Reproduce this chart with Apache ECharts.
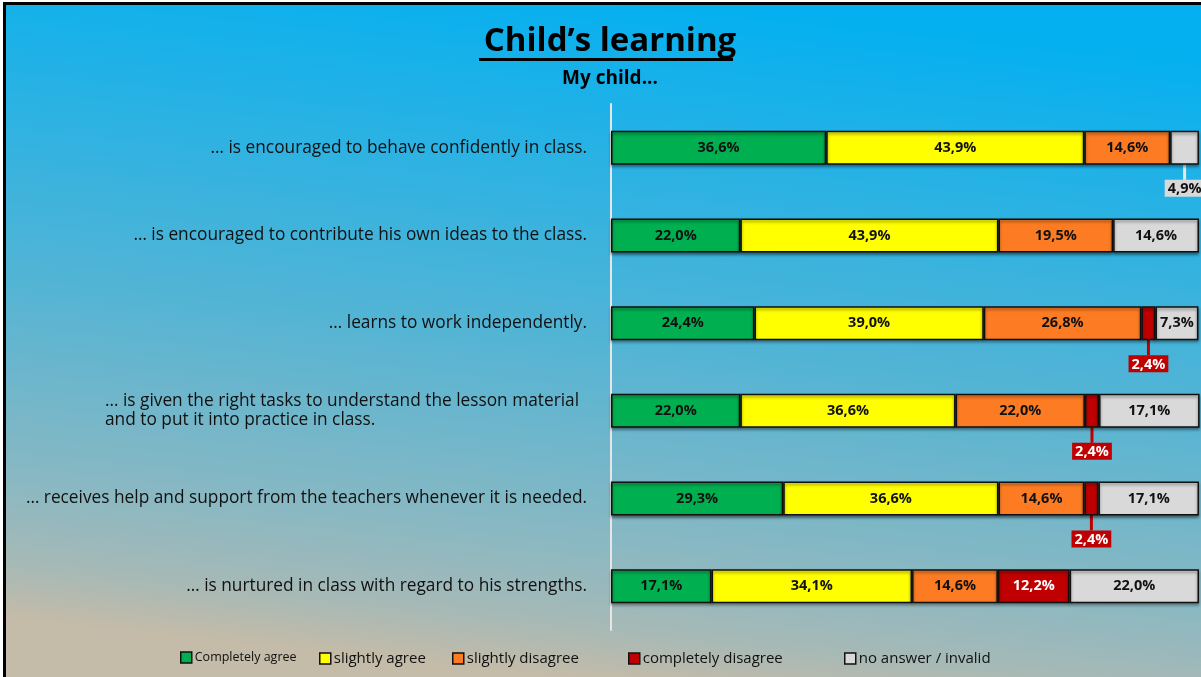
<!DOCTYPE html>
<html>
<head lang="en">
    <meta charset="UTF-8">
    <title>Child's learning</title>
    <style type="text/css">
        html, body { margin: 0; padding: 0; background: #fff; }
        #mychart { width: 1201px; height: 677px; }
    </style>
</head>
<body>
<div id="mychart"></div>
<script src="https://cdn.jsdelivr.net/npm/echarts@6/dist/echarts.min.js"></script>
<script>
    // statements, top row first
    var categories = [
        '\u2026 is encouraged to behave confidently in class.',
        '\u2026 is encouraged to contribute his own ideas to the class.',
        '\u2026 learns to work independently.',
        '\u2026 is given the right tasks to understand the lesson material\nand to put it into practice in class.',
        '\u2026 receives help and support from the teachers whenever it is needed.',
        '\u2026 is nurtured in class with regard to his strengths.'
    ];
    var seriesNames = ['Completely agree', 'slightly agree', 'slightly disagree', 'completely disagree', 'no answer / invalid'];
    var completelyAgree    = [36.6, 22.0, 24.4, 22.0, 29.3, 17.1];
    var slightlyAgree      = [43.9, 43.9, 39.0, 36.6, 36.6, 34.1];
    var slightlyDisagree   = [14.6, 19.5, 26.8, 22.0, 14.6, 14.6];
    var completelyDisagree = [0, 0, 2.4, 2.4, 2.4, 12.2];
    var noAnswer           = [4.9, 14.6, 7.3, 17.1, 17.1, 22.0];

    var values = [completelyAgree, slightlyAgree, slightlyDisagree, completelyDisagree, noAnswer];
    var colors = ['#00b050', '#ffff00', '#fd7c23', '#c00000', '#d9d9d9'];
    var labelColors = ['#111', '#111', '#111', '#fff', '#111'];
    var legendLeft = [180, 319, 452, 628, 844];
    var legendFont = [12.5, 15, 15, 15, 15];

    var FONT = '"Open Sans", "Noto Sans", sans-serif';
    var SMALL = 6; // segments thinner than this get their label below the bar

    function fmt(v) {
        return v.toFixed(1).replace('.', ',') + '%';
    }

    var series = values.map(function (arr, si) {
        return {
            name: seriesNames[si],
            type: 'bar',
            stack: 'all',
            barWidth: 34,
            itemStyle: {
                color: colors[si],
                borderColor: '#111',
                borderWidth: 1.5,
                shadowColor: 'rgba(0,0,0,0.45)',
                shadowBlur: 3,
                shadowOffsetY: 2
            },
            label: {
                show: true,
                position: 'inside',
                fontFamily: FONT,
                fontWeight: 'bold',
                fontSize: 14.5,
                color: labelColors[si],
                formatter: function (p) { return p.value ? fmt(p.value) : ''; }
            },
            labelLine: {
                show: true,
                lineStyle: { color: si === 3 ? '#c00000' : '#e8e8e8', width: 3 }
            },
            labelLayout: function (p) {
                var v = arr[p.dataIndex];
                if (v > 0 && v < SMALL) return { dy: 11 };
                return {};
            },
            data: arr.map(function (v) {
                if (!v) return '-';
                if (v < SMALL) {
                    return {
                        value: v,
                        label: {
                            position: 'bottom',
                            distance: 4,
                            backgroundColor: colors[si],
                            color: labelColors[si],
                            padding: [2, 3, 0, 3]
                        }
                    };
                }
                return v;
            })
        };
    });

    var legends = seriesNames.map(function (n, i) {
        return {
            data: [n],
            left: legendLeft[i],
            top: 651,
            padding: 0,
            itemWidth: 11,
            itemHeight: 11,
            itemGap: 3,
            icon: 'rect',
            selectedMode: false,
            itemStyle: { borderColor: '#111', borderWidth: 1.5 },
            textStyle: { fontFamily: FONT, fontSize: legendFont[i], color: '#111', padding: [0, 0, 0, -2] }
        };
    });

    var option = {
        backgroundColor: {
            type: 'linear', x: 0.53, y: 0, x2: 0.47, y2: 1,
            colorStops: [
                { offset: 0, color: '#05b0f0' },
                { offset: 0.5, color: '#52b4d5' },
                { offset: 0.8, color: '#8ab8c2' },
                { offset: 0.92, color: '#a6b9b6' },
                { offset: 1, color: '#c4bba8' }
            ]
        },
        animation: false,
        color: colors,
        title: [{
            text: 'Child\u2019s learning',
            left: 605,
            top: 20,
            textAlign: 'center',
            textStyle: { fontFamily: FONT, fontSize: 33, fontWeight: 'bold', color: '#000' }
        }, {
            text: 'My child...',
            left: 605,
            top: 64,
            textAlign: 'center',
            textStyle: { fontFamily: FONT, fontSize: 19, fontWeight: 'bold', color: '#000' }
        }],
        legend: legends,
        grid: { left: 611, right: 2, top: 104, bottom: 47, containLabel: false },
        xAxis: {
            type: 'value',
            min: 0,
            max: 100,
            show: false
        },
        yAxis: {
            type: 'category',
            inverse: true,
            data: categories,
            axisLine: { show: true, lineStyle: { color: '#e6e6e6', width: 2 } },
            axisTick: { show: false },
            axisLabel: {
                margin: 24,
                fontFamily: FONT,
                fontSize: 17.3,
                color: '#111',
                lineHeight: 19,
                formatter: function (v) {
                    if (v.indexOf('\n') < 0) return v;
                    var parts = v.split('\n');
                    return '{l|' + parts[0] + '}\n{l|' + parts[1] + '}';
                },
                rich: {
                    l: { width: 482, align: 'left', fontFamily: FONT, fontSize: 17.3, color: '#111', lineHeight: 19 }
                }
            }
        },
        series: series,
        graphic: [
            // frame edges and title underline
            { type: 'rect', left: 0, top: 0, shape: { width: 3, height: 677 }, style: { fill: '#fff' }, silent: true },
            { type: 'rect', left: 0, top: 0, shape: { width: 1201, height: 2 }, style: { fill: '#fff' }, silent: true },
            { type: 'rect', left: 3, top: 2, shape: { width: 3, height: 675 }, style: { fill: '#000' }, silent: true },
            { type: 'rect', left: 3, top: 2, shape: { width: 1198, height: 3 }, style: { fill: '#000' }, silent: true },
            { type: 'rect', left: 479, top: 58, shape: { width: 254, height: 3 }, style: { fill: '#000' }, silent: true }
        ]
    };

    var mychart = echarts.init(document.getElementById('mychart'));
    mychart.setOption(option);
</script>
</body>
</html>
